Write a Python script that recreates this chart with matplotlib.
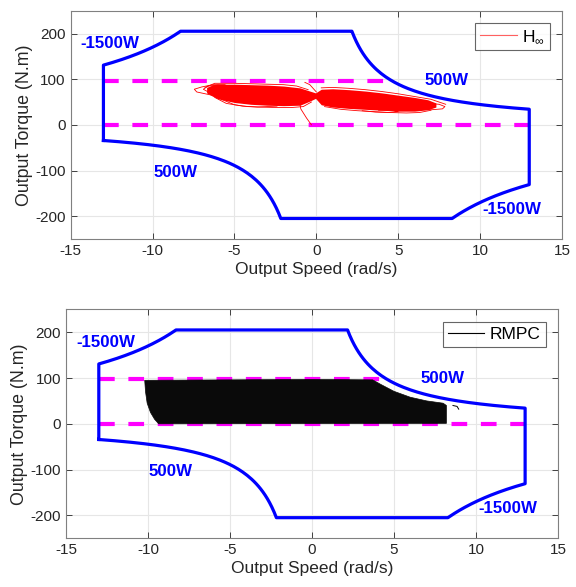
import numpy as np
import matplotlib
matplotlib.use("Agg")
import matplotlib.pyplot as plt
from matplotlib.lines import Line2D

plt.rcParams['font.family'] = ['Liberation Sans', 'DejaVu Sans']
plt.rcParams['mathtext.fontset'] = 'custom'
plt.rcParams['mathtext.rm'] = 'Liberation Sans'
plt.rcParams['axes.unicode_minus'] = False

# ---------------- data ----------------
# operating-envelope constants
speed_max = 13.0          # rad/s
torque_max = 205.0        # N.m
power_motor = 445.0       # effective constant-power level of the "500W" curves
power_regen = 1700.0      # effective constant-power level of the "-1500W" curves
band_hi = 97.0            # magenta dashed limits
band_lo = 0.0

# H-infinity trajectory: dense core envelope
hinf_w = [-6.7, -6.3, -6.0, -5.0, -4.0, -3.0, -2.0, -1.0, -0.4, -0.05, 0.3, 1.0, 2.0, 3.0, 4.0, 5.0, 6.0, 6.8, 7.3]
hinf_up = [82, 88, 89, 89, 88, 87, 85, 81, 74, 70, 78, 79, 77, 74, 70, 65, 60, 55, 48]
hinf_lo = [70, 62, 57, 49, 45, 43, 42, 43, 52, 58, 44, 39, 36, 34, 32, 30, 30, 33, 39]
# H-infinity outer loops / transients
hinf_loops = [
    ([-4.0, -6.0, -7.3, -7.45, -7.0, -6.3, -5.6, -5.2, -4.0], [60, 62, 72, 78, 83, 88, 88, 82, 74]),
    ([-6.5, -6.9, -6.6, -6.0, -5.5, -6.0, -6.5], [70, 78, 85, 87, 82, 72, 70]),
    ([-6.8, -6.2, -5.0, -4.0, -3.0, -2.0, -1.2, -0.5], [82, 91, 91, 90, 89, 88, 85, 77]),
    ([-6.2, -5.5, -4.5, -3.5, -2.5, -1.5, -0.8, -0.3], [60, 47, 41, 39, 38, 38, 40, 50]),
    ([-5.8, -5.0, -4.2, -3.6, -3.0, -2.4], [56, 44, 40, 39, 40, 41]),
    ([0.3, 1.0, 2.0, 3.0, 4.0, 5.0, 6.0, 7.0, 7.9], [81, 82, 80, 77, 73, 68, 62, 56, 45]),
    ([0.5, 1.5, 2.5, 3.5, 4.5, 5.5, 6.3, 7.0], [40, 34, 31, 29, 27, 26, 27, 32]),
    ([2.8, 3.6, 4.4, 5.0, 4.6, 3.8], [31, 28, 27, 29, 32, 32]),
    ([4.5, 6.0, 7.0, 7.7, 7.85, 7.5, 6.5, 5.0], [45, 37, 33, 35, 40, 45, 48, 52]),
    ([-0.3, -0.6, -0.95, -1.0], [0, 15, 35, 45]),
    ([-0.7, -0.4, 0.0], [93, 88, 72]),
]

# RMPC trajectory: dense region outline
rmpc_w = [-9.35, -9.6, -9.85, -10.05, -10.15, -10.2, -5.0, 0.0, 3.7, 4.2, 5.0, 6.0, 7.0, 8.0, 8.2, 8.2]
rmpc_t = [0, 10, 25, 45, 70, 95, 96, 97, 96, 86, 71, 58, 50, 45, 40, 1]
rmpc_curl_w = [8.6, 8.85, 8.95]
rmpc_curl_t = [40, 38, 32]

labels = [("-1500W", -12.6, 178), ("500W", 7.95, 98), ("500W", -8.6, -104), ("-1500W", 11.95, -185)]


def envelope():
    w_c = power_regen / torque_max
    w_m = power_motor / torque_max
    xs, ys = [], []
    xs += [-speed_max, -speed_max]; ys += [-power_motor / speed_max, power_regen / speed_max]
    w = np.linspace(-speed_max, -w_c, 60)
    xs += list(w); ys += list(-power_regen / w)
    xs += [w_m]; ys += [torque_max]
    w = np.linspace(w_m, speed_max, 80)
    xs += list(w); ys += list(power_motor / w)
    xs += [speed_max]; ys += [-power_regen / speed_max]
    w = np.linspace(speed_max, w_c, 60)
    xs += list(w); ys += list(-power_regen / w)
    xs += [-w_m]; ys += [-torque_max]
    w = np.linspace(-w_m, -speed_max, 80)
    xs += list(w); ys += list(power_motor / w)
    return xs, ys


fig = plt.figure(figsize=(5.76, 5.87), dpi=100)
ax1 = fig.add_axes([0.1227, 0.5928, 0.853, 0.389])
ax2 = fig.add_axes([0.1146, 0.083, 0.854, 0.390])

ex, ey = envelope()
dash = (0, (3.77, 3.28))
for ax in (ax1, ax2):
    ax.plot(ex, ey, color='#0000FF', lw=2.3, zorder=3)
    ax.plot([-speed_max, power_motor / band_hi], [band_hi, band_hi], color='#FF00FF', lw=3,
            linestyle=dash, zorder=2)
    ax.plot([-speed_max, speed_max], [band_lo, band_lo], color='#FF00FF', lw=3,
            linestyle=dash, zorder=2)
    for txt, x, y in labels:
        ax.text(x, y, txt, color='#0000FF', fontsize=12.2, fontweight='bold',
                ha='center', va='center', zorder=4)
    ax.set_xlim(-15, 15)
    ax.set_ylim(-250, 250)
    ax.set_xticks([-15, -10, -5, 0, 5, 10, 15])
    ax.set_yticks([-200, -100, 0, 100, 200])
    ax.grid(True, color='#E6E6E6', lw=0.8)
    ax.set_axisbelow(True)
    ax.tick_params(direction='in', top=True, right=True, labelsize=11,
                   colors='#262626', length=4, width=0.6)
    for s in ax.spines.values():
        s.set_color('#808080')
        s.set_linewidth(0.8)
    ax.set_xlabel('Output Speed (rad/s)', fontsize=12.5, color='#262626', labelpad=3)
    ax.set_ylabel('Output Torque (N.m)', fontsize=12.8, color='#262626', labelpad=2)

# H-infinity
red = '#FF0000'
ax1.fill_between(hinf_w, hinf_lo, hinf_up, color=red, lw=0, zorder=5)
for xw, yt in hinf_loops:
    ax1.plot(xw, yt, color=red, lw=0.6, zorder=5)
leg1 = ax1.legend([Line2D([], [], color='#FF6060', lw=0.8)], [r'H$_\infty$'],
                  loc='upper right', fontsize=12.5, frameon=True, fancybox=False,
                  edgecolor='#404040', handlelength=2.1, handletextpad=0.3,
                  borderpad=0.3, borderaxespad=0.7)
leg1.get_frame().set_linewidth(0.8)

# RMPC
ax2.fill(rmpc_w, rmpc_t, color='#0A0A0A', lw=0.5, zorder=5)
ax2.plot(rmpc_curl_w, rmpc_curl_t, color='black', lw=0.7, zorder=5)
leg2 = ax2.legend([Line2D([], [], color='black', lw=0.8)], ['RMPC'],
                  loc='upper right', fontsize=12.5, frameon=True, fancybox=False,
                  edgecolor='#404040', handlelength=2.1, handletextpad=0.3,
                  borderpad=0.3, borderaxespad=0.7)
leg2.get_frame().set_linewidth(0.8)

fig.savefig('out.png', dpi=100)
